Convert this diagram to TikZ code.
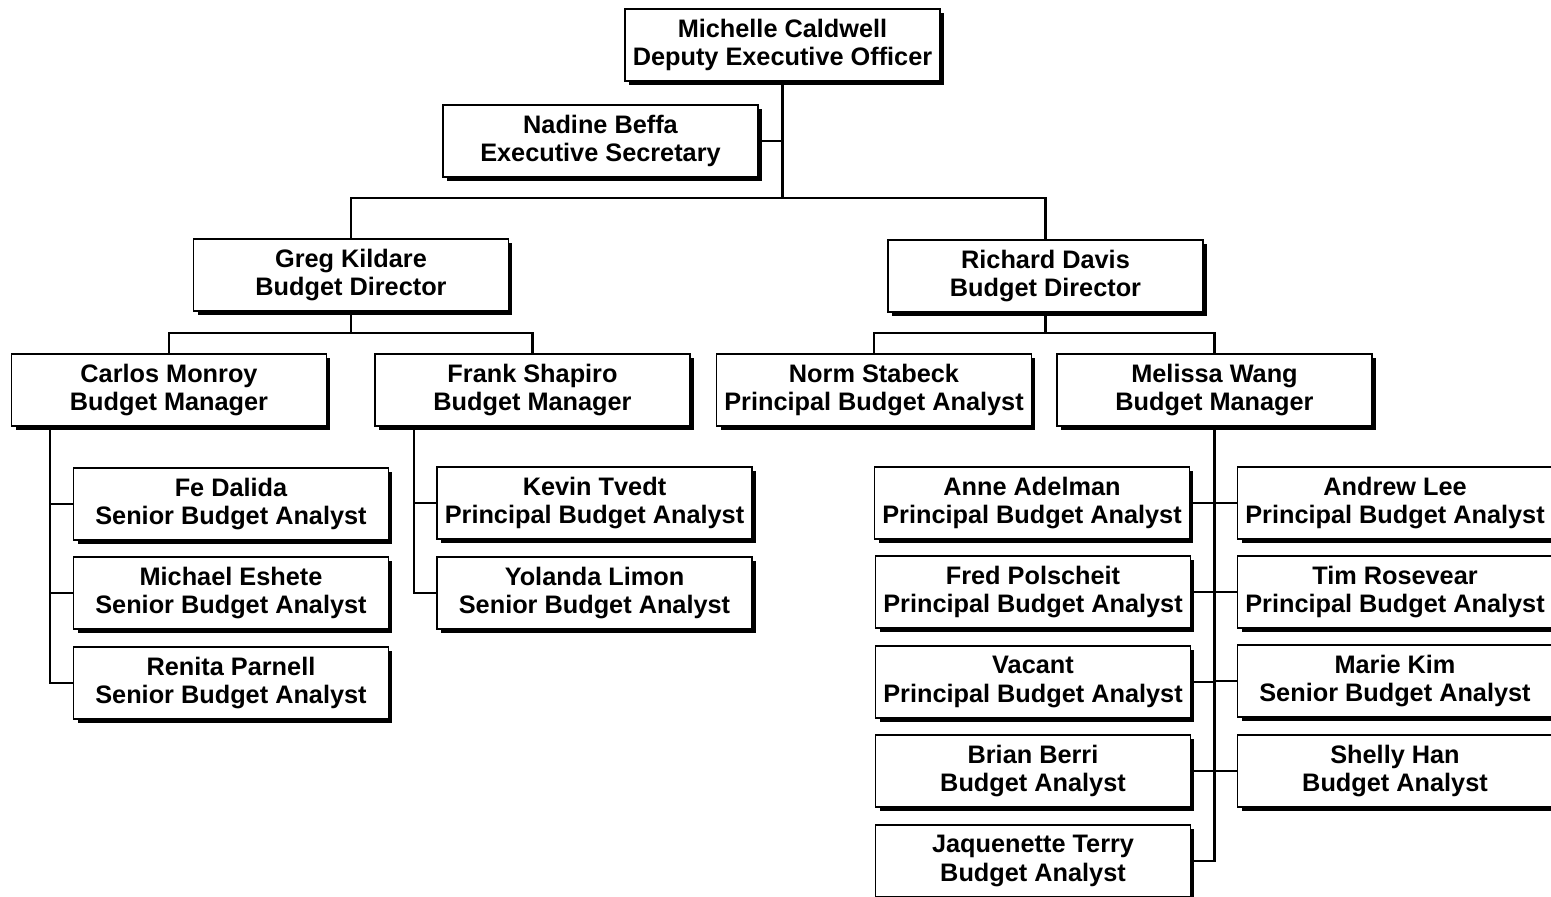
\documentclass[tikz,border=0pt]{standalone}
\usepackage{fontspec}
\setmainfont{Liberation Sans}
\usetikzlibrary{shadows}

\tikzset{
    post/.style={draw, line width=0.8pt, fill=white, minimum width=6.3cm, minimum height=1.44cm,
        align=center, inner sep=0pt, font=\fontsize{14.4}{16}\selectfont\bfseries,
        general shadow={fill=black, shadow xshift=0.08cm, shadow yshift=-0.08cm}},
    link/.style={line width=1.4pt}
}

\begin{document}
\begin{tikzpicture}[x=0.02cm, y=-0.02cm]
    \useasboundingbox (0,0) rectangle (1551,896);
    \clip (0,0) rectangle (1551,896);

    % top of the office
    \node (mc) [post] at (782.5,45) {Michelle Caldwell\\Deputy Executive Officer};
    \node (nb) [post] at (600.5,141) {Nadine Beffa\\Executive Secretary};
    \node (gk) [post] at (351,275) {Greg Kildare\\Budget Director};
    \node (rd) [post] at (1045.5,276) {Richard Davis\\Budget Director};

    % managers
    \node (cm) [post] at (169,390) {Carlos Monroy\\Budget Manager};
    \node (fs) [post] at (532.5,390) {Frank Shapiro\\Budget Manager};
    \node (ns) [post] at (874,390) {Norm Stabeck\\Principal Budget Analyst};
    \node (mw) [post] at (1214.5,390) {Melissa Wang\\Budget Manager};

    % analysts
    \node (fd) [post] at (231,504) {Fe Dalida\\Senior Budget Analyst};
    \node (me) [post] at (231,593) {Michael Eshete\\Senior Budget Analyst};
    \node (rp) [post] at (231,683) {Renita Parnell\\Senior Budget Analyst};
    \node (kt) [post] at (594.5,503) {Kevin Tvedt\\Principal Budget Analyst};
    \node (yl) [post] at (594.5,593) {Yolanda Limon\\Senior Budget Analyst};
    \node (aa) [post] at (1032,503) {Anne Adelman\\Principal Budget Analyst};
    \node (fp) [post] at (1033,592) {Fred Polscheit\\Principal Budget Analyst};
    \node (va) [post] at (1033,682) {Vacant\\Principal Budget Analyst};
    \node (bb) [post] at (1033,771) {Brian Berri\\Budget Analyst};
    \node (jt) [post] at (1033,861) {Jaquenette Terry\\Budget Analyst};
    \node (al) [post] at (1395,503) {Andrew Lee\\Principal Budget Analyst};
    \node (tr) [post] at (1395,592) {Tim Rosevear\\Principal Budget Analyst};
    \node (mk) [post] at (1395,681) {Marie Kim\\Senior Budget Analyst};
    \node (sh) [post] at (1395,771) {Shelly Han\\Budget Analyst};

    % joints
    \coordinate (j1) at (782.5,198);
    \coordinate (j2) at (351,333);
    \coordinate (j3) at (1045.5,333);
    \coordinate (cmt) at (50,426);
    \coordinate (fst) at (414,426);
    \coordinate (mwt) at (1214.5,426);

    \draw[link] (mc.south) -- (j1);
    \draw[link] (mc.south) |- (nb.east);
    \draw[link] (gk.north) |- (j1) -| (rd.north);
    \draw[link] (gk.south) -- (j2);
    \draw[link] (cm.north) |- (j2) -| (fs.north);
    \draw[link] (rd.south) -- (j3);
    \draw[link] (ns.north) |- (j3) -| (mw.north);
    \foreach \n in {fd,me,rp} \draw[link] (cmt) |- (\n.west);
    \foreach \n in {kt,yl} \draw[link] (fst) |- (\n.west);
    \foreach \n in {aa,fp,va,bb,jt} \draw[link] (mwt) |- (\n.east);
    \foreach \n in {al,tr,mk,sh} \draw[link] (mwt) |- (\n.west);
\end{tikzpicture}
\end{document}
